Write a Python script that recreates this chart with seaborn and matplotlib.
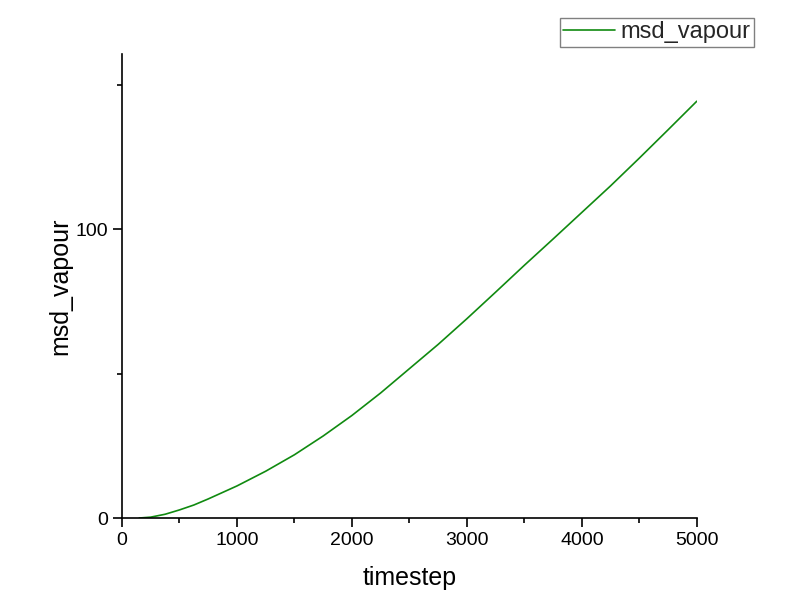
import matplotlib
matplotlib.use("Agg")
import matplotlib.pyplot as plt
from matplotlib.ticker import MultipleLocator
import pandas as pd
import seaborn as sns

# values
timestep = [150, 250, 375, 500, 625, 750, 1000, 1250, 1500, 1750, 2000, 2250,
            2500, 2750, 3000, 3250, 3500, 3750, 4000, 4250, 4500, 4750, 5000]
msd_vapour = [0.0, 0.3, 1.3, 2.8, 4.5, 6.6, 11.1, 16.2, 21.9, 28.4, 35.5, 43.3,
              51.7, 60.1, 69.0, 78.2, 87.5, 96.6, 105.8, 115.0, 124.6, 134.4, 144.3]

df = pd.DataFrame({"timestep": timestep, "msd_vapour": msd_vapour})

sns.set_theme(style="ticks")
plt.rcParams["font.family"] = ["Liberation Sans", "DejaVu Sans"]

fig = plt.figure(figsize=(8, 5.95), dpi=100)
ax = fig.add_axes([0.1525, 0.1294, 0.871 - 0.1525, 0.909 - 0.1294])

sns.lineplot(data=df, x="timestep", y="msd_vapour", color="#108a10",
             linewidth=1.2, label="msd_vapour", ax=ax)

ax.set_xlim(0, 5000)
ax.set_ylim(0, 160.6)
ax.xaxis.set_major_locator(MultipleLocator(1000))
ax.xaxis.set_minor_locator(MultipleLocator(500))
ax.yaxis.set_major_locator(MultipleLocator(100))
ax.yaxis.set_minor_locator(MultipleLocator(50))

sns.despine(ax=ax)
for s in ["left", "bottom"]:
    ax.spines[s].set_color("black")
    ax.spines[s].set_linewidth(1.2)

ax.tick_params(which="major", length=6.5, width=1.2, color="black",
               labelsize=14, labelcolor="black", direction="out")
ax.tick_params(which="minor", length=3.5, width=1.2, color="black", direction="out")

ax.set_xlabel("timestep", fontsize=18, color="black", labelpad=12)
ax.set_ylabel("msd_vapour", fontsize=18, color="black", labelpad=2)

leg = ax.legend(loc="upper right", bbox_to_anchor=(754 / 800, 1 - 18 / 595),
                bbox_transform=fig.transFigure, fontsize=17, frameon=True,
                fancybox=False, framealpha=1, edgecolor="#808080",
                handlelength=2.2, handletextpad=0.25, borderpad=0.14,
                borderaxespad=0)
leg.get_frame().set_linewidth(1.0)

fig.savefig("out.png", dpi=100)
